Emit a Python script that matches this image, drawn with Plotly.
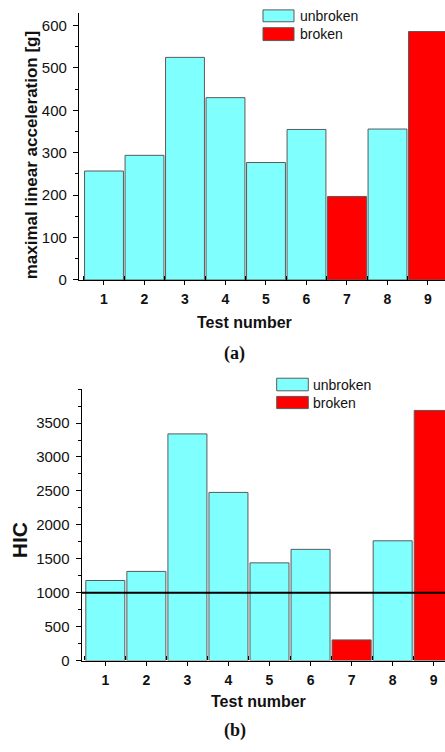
import plotly.graph_objects as go

# ---- data ----
tests = [1, 2, 3, 4, 5, 6, 7, 8, 9]
status = ["unbroken", "unbroken", "unbroken", "unbroken", "unbroken",
          "unbroken", "broken", "unbroken", "broken"]
max_accel_g = [257, 294, 525, 430, 277, 355, 197, 356, 586]
hic_values = [1180, 1314, 3340, 2478, 1440, 1639, 305, 1765, 3686]
hic_threshold = 1000
accel_ticks = [0, 100, 200, 300, 400, 500, 600]
hic_ticks = [0, 500, 1000, 1500, 2000, 2500, 3000, 3500]

# ---- styles ----
W, H = 445, 752
COLORS = {"unbroken": "#80FFFF", "broken": "#FF0000"}
OUTLINE = "#5a5a5a"
SANS = "Liberation Sans, Arial, sans-serif"
SERIF = "Liberation Serif, Times New Roman, serif"
bar_colors = [COLORS[s] for s in status]


def px(x):
    return x / W


def py(y):
    return 1 - y / H


fig = go.Figure()
fig.add_trace(go.Bar(x=tests, y=max_accel_g, marker=dict(color=bar_colors, line=dict(color=OUTLINE, width=1)),
                     xaxis="x", yaxis="y", showlegend=False, width=0.96))
fig.add_trace(go.Bar(x=tests, y=hic_values, marker=dict(color=bar_colors, line=dict(color=OUTLINE, width=1)),
                     xaxis="x2", yaxis="y2", showlegend=False, width=0.95))

xcommon = dict(tickmode="array", tickvals=tests, ticktext=[str(t) for t in tests],
               showline=True, linecolor="black", linewidth=1.3, ticks="outside", ticklen=4,
               tickcolor="black", tickwidth=1.2, showgrid=False, zeroline=False,
               tickfont=dict(family=SANS, size=14, color="#111", weight="bold"),
               minor=dict(tickmode="array", tickvals=[t + 0.5 for t in [0] + tests],
                          ticks="inside", ticklen=4, tickcolor="black", tickwidth=1.2),
               ticklabelstandoff=2)
ycommon = dict(showline=True, linecolor="black", linewidth=1.3, ticks="outside", ticklen=5,
               tickcolor="black", tickwidth=1.2, showgrid=False, zeroline=False,
               tickfont=dict(family=SANS, size=15, color="#111"), tickmode="array",
               ticklabelstandoff=3)

fig.update_layout(
    width=W, height=H, margin=dict(l=0, r=0, t=0, b=0),
    paper_bgcolor="white", plot_bgcolor="white", bargap=0.04,
    xaxis=dict(xcommon, domain=[px(79), 1], range=[0.383, 9.42], anchor="y"),
    yaxis=dict(ycommon, domain=[py(283), py(13)], range=[0, 630], anchor="x",
               tickvals=accel_ticks,
               minor=dict(dtick=50, ticks="outside", ticklen=3, tickcolor="black", tickwidth=1)),
    xaxis2=dict(xcommon, domain=[px(81.7), 1], range=[0.425, 9.275], anchor="y2"),
    yaxis2=dict(ycommon, domain=[py(667.7), py(393.3)], range=[0, 4000], anchor="x2",
                tickvals=hic_ticks,
                minor=dict(dtick=250, ticks="outside", ticklen=3, tickcolor="black", tickwidth=1)),
)

# threshold line
fig.add_shape(type="line", xref="x2 domain", yref="y2", x0=0, x1=1, y0=hic_threshold, y1=hic_threshold,
              line=dict(color="black", width=2))

# custom legends
def legend(x0, x1, rows, text_x):
    for (y0, y1), name in rows:
        fig.add_shape(type="rect", xref="paper", yref="paper", x0=px(x0), x1=px(x1), y0=py(y1), y1=py(y0),
                      fillcolor=COLORS[name], line=dict(color=OUTLINE, width=1))
        fig.add_annotation(xref="paper", yref="paper", x=px(text_x), y=py((y0 + y1) / 2), text=name,
                           showarrow=False, xanchor="left", yanchor="middle",
                           font=dict(family=SANS, size=14, color="#111"))


legend(263, 294, [((10, 22), "unbroken"), ((28, 41), "broken")], 298)
legend(276.7, 308.3, [((382.3, 395), "unbroken"), ((400.7, 413), "broken")], 311)

# titles
def ann(x, y, text, size, family=SANS, angle=0, bold=True):
    fig.add_annotation(xref="paper", yref="paper", x=px(x), y=py(y), text=text, showarrow=False,
                       xanchor="center", yanchor="middle", textangle=angle,
                       font=dict(family=family, size=size, color="#111", weight="bold" if bold else "normal"))


ann(31, 157, "maximal linear acceleration [g]", 17, angle=-90)
ann(244, 326, "Test number", 16)
ann(235, 357, "(a)", 18, family=SERIF)
ann(19, 546, "HIC", 21, angle=-90)
ann(258, 709, "Test number", 16)
ann(235, 738, "(b)", 18, family=SERIF)

fig.write_html("out.html", config={"displayModeBar": False},
               post_script="document.body.style.margin='0px';document.body.style.overflow='hidden';")
